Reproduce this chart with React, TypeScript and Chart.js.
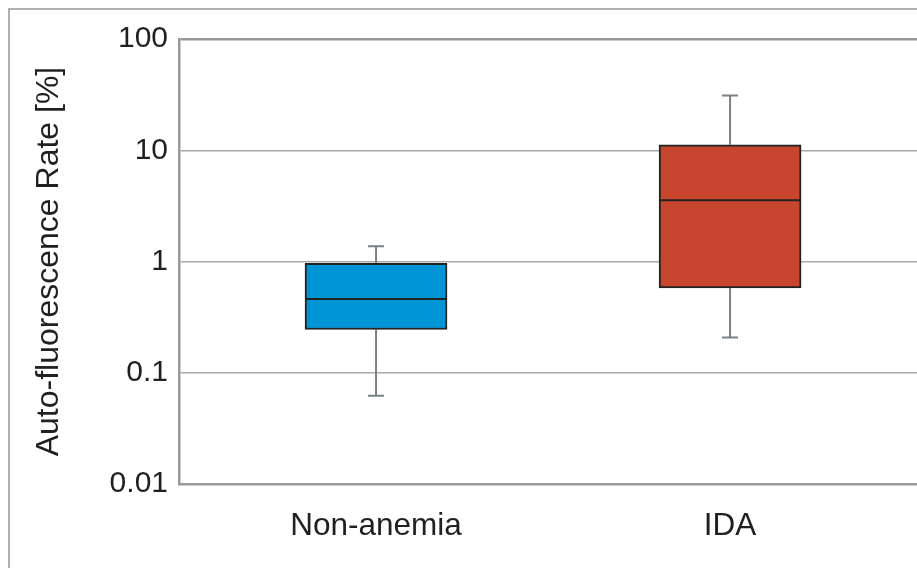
import React, { useEffect, useRef } from "react";
import { Chart, registerables } from "chart.js";

Chart.register(...registerables);

const categories = ["Non-anemia", "IDA"];
const positions = [1, 2];
const mins = [0.062, 0.207];
const q1s = [0.245, 0.58];
const medians = [0.459, 3.55];
const q3s = [0.963, 11.2];
const maxs = [1.37, 31.1];
const yTicks = [0.01, 0.1, 1, 10, 100];
const boxColors = ["#0096D6", "#C8462D"];

const FONT = "'Liberation Sans', Arial, Helvetica, sans-serif";

const boxPlugin = {
  id: "boxParts",
  beforeDatasetsDraw(chart: any) {
    const { ctx, scales } = chart;
    const x = scales.x;
    const y = scales.y;
    ctx.save();
    ctx.strokeStyle = "#7a8288";
    ctx.lineWidth = 2;
    positions.forEach((p, i) => {
      const px = x.getPixelForValue(p);
      const yMin = y.getPixelForValue(mins[i]);
      const yMax = y.getPixelForValue(maxs[i]);
      const yQ1 = y.getPixelForValue(q1s[i]);
      const yQ3 = y.getPixelForValue(q3s[i]);
      ctx.beginPath();
      ctx.moveTo(px, yQ3);
      ctx.lineTo(px, yMax);
      ctx.moveTo(px - 8, yMax);
      ctx.lineTo(px + 8, yMax);
      ctx.moveTo(px, yQ1);
      ctx.lineTo(px, yMin);
      ctx.moveTo(px - 8, yMin);
      ctx.lineTo(px + 8, yMin);
      ctx.stroke();
    });
    ctx.restore();
  },
  afterDatasetsDraw(chart: any) {
    const { ctx, scales } = chart;
    const x = scales.x;
    const y = scales.y;
    const meta = chart.getDatasetMeta(0);
    ctx.save();
    ctx.strokeStyle = "#222";
    ctx.lineWidth = 2;
    positions.forEach((p, i) => {
      const el = meta.data[i];
      const half = el.width / 2;
      const px = x.getPixelForValue(p);
      const ym = y.getPixelForValue(medians[i]);
      ctx.beginPath();
      ctx.moveTo(px - half, ym);
      ctx.lineTo(px + half, ym);
      ctx.stroke();
    });
    ctx.restore();
  },
};

export default function App() {
  const ref = useRef<HTMLCanvasElement | null>(null);

  useEffect(() => {
    document.documentElement.style.overflow = "hidden";
    document.body.style.overflow = "hidden";
    const canvas = ref.current;
    if (!canvas) return;
    const chart = new Chart(canvas, {
      type: "bar",
      data: {
        datasets: [
          {
            data: positions.map((p, i) => ({ x: p, y: [q1s[i], q3s[i]] })) as any,
            backgroundColor: boxColors,
            borderColor: "#222",
            borderWidth: 2,
            borderSkipped: false,
            barThickness: 142,
          },
        ],
      },
      options: {
        animation: false,
        responsive: false,
        layout: { padding: { left: 0, top: 27, right: 0, bottom: 0 } },
        plugins: { legend: { display: false }, tooltip: { enabled: false } },
        scales: {
          x: {
            type: "linear",
            min: 0.4435,
            max: 2.528,
            offset: false,
            afterBuildTicks: (scale: any) => {
              scale.ticks = positions.map((v) => ({ value: v }));
            },
            afterFit: (scale: any) => {
              scale.height = 84;
            },
            ticks: {
              callback: (v: any) => categories[positions.indexOf(Number(v))] ?? "",
              font: { family: FONT, size: 31.5 },
              color: "#231f20",
              padding: 23,
              maxRotation: 0,
              autoSkip: false,
            },
            grid: { display: true, drawOnChartArea: false, drawTicks: false },
            border: { display: true, color: "#999", width: 2.5 },
          },
          y: {
            type: "logarithmic",
            min: 0.01,
            max: 100,
            afterBuildTicks: (scale: any) => {
              scale.ticks = yTicks.map((v) => ({ value: v, major: true }));
            },
            afterFit: (scale: any) => {
              scale.width = 169;
            },
            ticks: {
              callback: (v: any) => String(Number(v)),
              font: { family: FONT, size: 30 },
              color: "#231f20",
              padding: 11,
              autoSkip: false,
            },
            grid: {
              drawTicks: false,
              color: (c: any) => (c.tick && c.tick.value === 100 ? "#999" : "#aaa"),
              lineWidth: (c: any) => (c.tick && c.tick.value === 100 ? 2.5 : 1.5),
            },
            border: { display: true, color: "#999", width: 2.5 },
            title: {
              display: true,
              text: "Auto-fluorescence Rate [%]",
              font: { family: FONT, size: 32 },
              color: "#231f20",
              padding: { top: 20, bottom: 0 },
            },
          },
        },
      },
      plugins: [boxPlugin],
    });
    return () => chart.destroy();
  }, []);

  return (
    <div
      style={{
        position: "fixed",
        left: 8,
        top: 8,
        boxSizing: "border-box",
        width: 909,
        height: 560,
        borderLeft: "2px solid #b0b0b0",
        borderTop: "2px solid #b0b0b0",
        overflow: "hidden",
      }}
    >
      <canvas ref={ref} width={907} height={558} style={{ display: "block", width: 907, height: 558 }} />
    </div>
  );
}
